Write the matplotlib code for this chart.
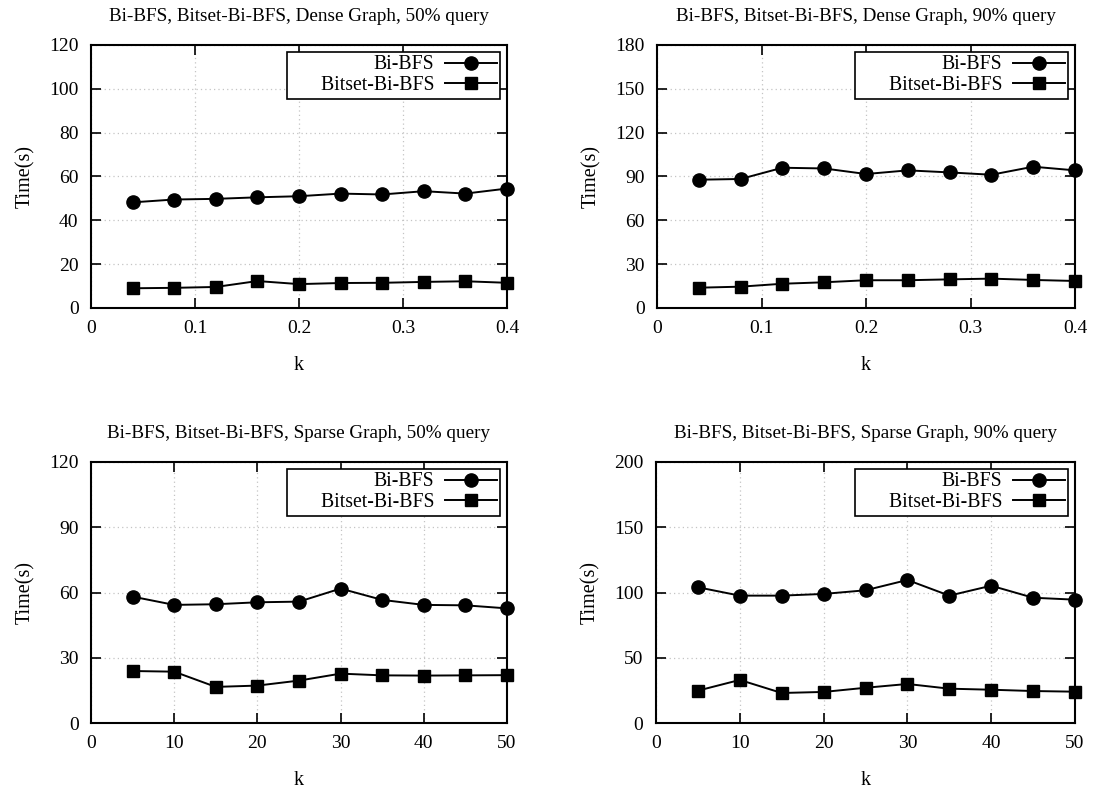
import matplotlib
matplotlib.use("Agg")
import matplotlib.pyplot as plt

plt.rcParams["font.family"] = ["Liberation Serif", "DejaVu Serif"]
plt.rcParams["font.size"] = 14

# dense graph: k as fraction
k_dense = [0.04, 0.08, 0.12, 0.16, 0.20, 0.24, 0.28, 0.32, 0.36, 0.40]
# sparse graph: k as count
k_sparse = [5, 10, 15, 20, 25, 30, 35, 40, 45, 50]

dense50_bibfs = [48.2, 49.5, 49.8, 50.5, 51.0, 52.2, 51.8, 53.3, 52.2, 54.5]
dense50_bitset = [9.0, 9.2, 9.6, 12.3, 10.9, 11.4, 11.5, 11.9, 12.2, 11.5]

dense90_bibfs = [87.8, 88.3, 96.0, 95.5, 91.7, 94.2, 92.8, 91.2, 96.7, 94.2]
dense90_bitset = [13.9, 14.6, 16.6, 17.6, 19.0, 19.0, 19.6, 20.1, 19.2, 18.5]

sparse50_bibfs = [58.1, 54.3, 54.6, 55.5, 55.8, 61.8, 56.6, 54.3, 54.1, 52.7]
sparse50_bitset = [23.9, 23.6, 16.6, 17.2, 19.5, 22.7, 21.9, 21.8, 21.9, 22.0]

sparse90_bibfs = [104.0, 97.6, 97.6, 98.9, 101.7, 109.6, 97.6, 105.2, 96.0, 94.5]
sparse90_bitset = [24.8, 33.0, 23.0, 23.8, 27.0, 29.9, 26.3, 25.5, 24.5, 24.0]

dense_xticks = [0, 0.1, 0.2, 0.3, 0.4]
dense_xlabels = ["0", "0.1", "0.2", "0.3", "0.4"]
sparse_xticks = [0, 10, 20, 30, 40, 50]
sparse_xlabels = ["0", "10", "20", "30", "40", "50"]

panels = [
    ("Bi-BFS, Bitset-Bi-BFS, Dense Graph, 50% query", k_dense, dense50_bibfs, dense50_bitset,
     dense_xticks, dense_xlabels, [0, 20, 40, 60, 80, 100, 120]),
    ("Bi-BFS, Bitset-Bi-BFS, Dense Graph, 90% query", k_dense, dense90_bibfs, dense90_bitset,
     dense_xticks, dense_xlabels, [0, 30, 60, 90, 120, 150, 180]),
    ("Bi-BFS, Bitset-Bi-BFS, Sparse Graph, 50% query", k_sparse, sparse50_bibfs, sparse50_bitset,
     sparse_xticks, sparse_xlabels, [0, 30, 60, 90, 120]),
    ("Bi-BFS, Bitset-Bi-BFS, Sparse Graph, 90% query", k_sparse, sparse90_bibfs, sparse90_bitset,
     sparse_xticks, sparse_xlabels, [0, 50, 100, 150, 200]),
]

W, H = 1094, 794
# axes boxes in pixels: left, top, right, bottom
boxes = [(91, 45, 507, 308), (657, 45, 1075, 308), (91, 462, 507, 723), (656, 462, 1075, 723)]

fig = plt.figure(figsize=(W / 100, H / 100), dpi=100)

for (title, xs, a, b, xt, xtl, yt), (l, t, r, bt) in zip(panels, boxes):
    ax = fig.add_axes([l / W, 1 - bt / H, (r - l) / W, (bt - t) / H])
    ax.plot(xs, a, "-o", color="black", lw=1.4, ms=9.5, label="Bi-BFS", clip_on=False, zorder=3)
    # leading spaces widen the key box on the left, like gnuplot does
    ax.plot(xs, b, "-s", color="black", lw=1.4, ms=8.5, label="      Bitset-Bi-BFS", clip_on=False, zorder=3)
    ax.set_xlim(xt[0], xt[-1])
    ax.set_ylim(yt[0], yt[-1])
    ax.set_xticks(xt)
    ax.set_xticklabels(xtl)
    ax.set_yticks(yt)
    ax.tick_params(direction="in", length=7, width=1.2, top=True, right=True, pad=9)
    for s in ax.spines.values():
        s.set_linewidth(1.5)
    ax.grid(True, color="#c4c4c4", linestyle=(0, (1, 2.5)), linewidth=0.9)
    ax.set_axisbelow(True)
    ax.set_title(title, pad=17, fontsize=13.8)
    ax.set_xlabel("k", labelpad=13, fontsize=14.5)
    ax.set_ylabel("Time(s)", labelpad=10, fontsize=14.5)
    leg = ax.legend(loc="upper right", markerfirst=False, fancybox=False, framealpha=1,
                    edgecolor="black", handlelength=2.6, borderaxespad=0.35,
                    labelspacing=0.08, borderpad=0.18, handletextpad=0.55, fontsize=14.2)
    leg.get_frame().set_linewidth(1.2)

fig.savefig("out.png", dpi=100)
